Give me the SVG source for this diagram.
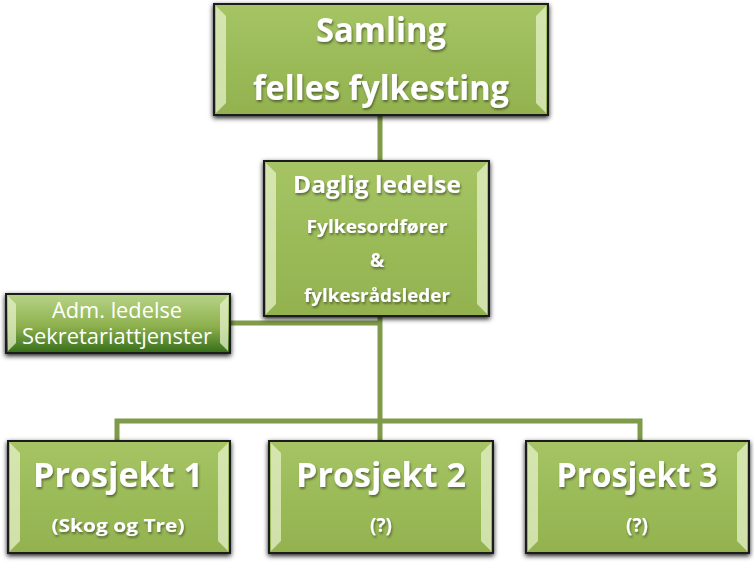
<svg xmlns="http://www.w3.org/2000/svg" width="754" height="563" viewBox="0 0 754 563">
<defs>
<linearGradient id="g" x1="0" y1="0" x2="0" y2="1">
<stop offset="0" stop-color="#a6c464"/>
<stop offset="0.5" stop-color="#9bbb59"/>
<stop offset="1" stop-color="#93b24f"/>
</linearGradient>
<linearGradient id="ga" x1="0" y1="0" x2="0" y2="1">
<stop offset="0" stop-color="#b8d487"/>
<stop offset="0.55" stop-color="#8db04e"/>
<stop offset="1" stop-color="#356d1a"/>
</linearGradient>
<filter id="sh" x="-10%" y="-10%" width="120%" height="130%">
<feDropShadow dx="0" dy="2" stdDeviation="2.5" flood-color="#000" flood-opacity="0.9"/>
</filter>
<filter id="ts" x="-10%" y="-20%" width="120%" height="150%">
<feDropShadow dx="1" dy="2" stdDeviation="1.2" flood-color="#3c4a20" flood-opacity="0.7"/>
</filter>
</defs>
<style>
.box{fill:url(#g);stroke:#1a1a1a;stroke-width:2;filter:url(#sh)}
.adm{fill:url(#ga);stroke:#1a1a1a;stroke-width:2;filter:url(#sh)}
.bev{fill:#e4f0c8;opacity:0.75}
.t{font-family:"Open Sans","Liberation Sans",sans-serif;font-weight:bold;fill:#ffffff;text-anchor:middle;filter:url(#ts)}
.r{font-family:"Open Sans","Liberation Sans",sans-serif;fill:#ffffff;text-anchor:middle}
.c{fill:none;stroke:#7f9a48;stroke-width:5}
</style>
<g id="connectors">
<path class="c" d="M380 115 V162"/>
<path class="c" d="M380 316 V421"/>
<path class="c" d="M230 323 H380"/>
<path class="c" d="M117 440 V421 H640 V440"/>
<path class="c" d="M380 421 V440"/>
</g>
<g id="samling">
<rect class="box" x="214" y="4" width="334" height="111"/>
<path class="bev" d="M216 6 L226 16 V103 L216 113 Z"/>
<path class="bev" d="M546 6 L536 16 V103 L546 113 Z"/>
<text class="t" x="381" y="42" font-size="34" textLength="130" lengthAdjust="spacingAndGlyphs">Samling</text>
<text class="t" x="381" y="100" font-size="34" textLength="256" lengthAdjust="spacingAndGlyphs">felles fylkesting</text>
</g>
<g id="daglig">
<rect class="box" x="264" y="161" width="225" height="155"/>
<path class="bev" d="M266 163 L276 173 V304 L266 314 Z"/>
<path class="bev" d="M487 163 L477 173 V304 L487 314 Z"/>
<text class="t" x="377" y="193" font-size="23" textLength="168" lengthAdjust="spacingAndGlyphs">Daglig ledelse</text>
<text class="t" x="377" y="233" font-size="18" textLength="141" lengthAdjust="spacingAndGlyphs">Fylkesordfører</text>
<text class="t" x="377" y="267" font-size="19">&amp;</text>
<text class="t" x="377" y="302" font-size="18" textLength="146" lengthAdjust="spacingAndGlyphs">fylkesrådsleder</text>
</g>
<g id="adm">
<rect class="adm" x="6" y="294" width="224" height="59"/>
<path class="bev" d="M8 296 L16 304 V343 L8 351 Z"/>
<path class="bev" d="M228 296 L220 304 V343 L228 351 Z"/>
<text class="r" x="117" y="318" font-size="21" textLength="130" lengthAdjust="spacingAndGlyphs">Adm. ledelse</text>
<text class="r" x="117" y="344" font-size="21" textLength="190" lengthAdjust="spacingAndGlyphs">Sekretariattjenster</text>
</g>
<g id="prosjekt1">
<rect class="box" x="8" y="441" width="222" height="112"/>
<path class="bev" d="M10 443 L20 453 V541 L10 551 Z"/>
<path class="bev" d="M228 443 L218 453 V541 L228 551 Z"/>
<text class="t" x="118" y="487" font-size="34" textLength="170" lengthAdjust="spacingAndGlyphs">Prosjekt 1</text>
<text class="t" x="118" y="532" font-size="18" textLength="133" lengthAdjust="spacingAndGlyphs">(Skog og Tre)</text>
</g>
<g id="prosjekt2">
<rect class="box" x="269" y="441" width="224" height="112"/>
<path class="bev" d="M271 443 L281 453 V541 L271 551 Z"/>
<path class="bev" d="M491 443 L481 453 V541 L491 551 Z"/>
<text class="t" x="381" y="487" font-size="34" textLength="170" lengthAdjust="spacingAndGlyphs">Prosjekt 2</text>
<text class="t" x="381" y="532" font-size="19">(?)</text>
</g>
<g id="prosjekt3">
<rect class="box" x="526" y="441" width="223" height="112"/>
<path class="bev" d="M528 443 L538 453 V541 L528 551 Z"/>
<path class="bev" d="M747 443 L737 453 V541 L747 551 Z"/>
<text class="t" x="637" y="487" font-size="34" textLength="161" lengthAdjust="spacingAndGlyphs">Prosjekt 3</text>
<text class="t" x="637" y="532" font-size="19">(?)</text>
</g>
</svg>
